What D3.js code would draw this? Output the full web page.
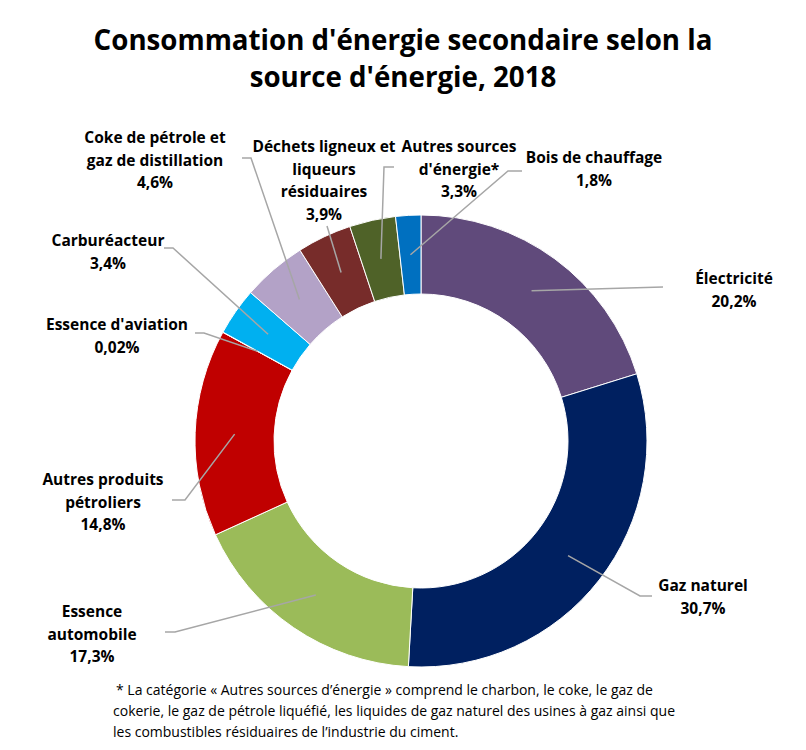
<!DOCTYPE html>
<html lang="fr">
<head>
<meta charset="UTF-8">
<title>Consommation d'énergie secondaire</title>
<style>
  body { margin: 0; background: #fff; }
  svg text { font-family: "Open Sans", Lato, sans-serif; fill: #000; }
</style>
<script src="https://cdn.jsdelivr.net/npm/d3@7"></script>
</head>
<body>
<script>
// données
var categories = ["Électricité", "Gaz naturel", "Essence automobile", "Autres produits pétroliers",
  "Essence d'aviation", "Carburéacteur", "Coke de pétrole et gaz de distillation",
  "Déchets ligneux et liqueurs résiduaires", "Autres sources d'énergie*", "Bois de chauffage"];
var values = [20.2, 30.7, 17.3, 14.8, 0.02, 3.4, 4.6, 3.9, 3.3, 1.8];
var valueLabels = ["20,2%", "30,7%", "17,3%", "14,8%", "0,02%", "3,4%", "4,6%", "3,9%", "3,3%", "1,8%"];
var labelLines = [["Électricité"], ["Gaz naturel"], ["Essence", "automobile"], ["Autres produits", "pétroliers"],
  ["Essence d'aviation"], ["Carburéacteur"], ["Coke de pétrole et", "gaz de distillation"],
  ["Déchets ligneux et", "liqueurs", "résiduaires"], ["Autres sources", "d'énergie*"], ["Bois de chauffage"]];
var colors = ["#604A7B", "#002060", "#9BBB59", "#C00000", "#E46C0A", "#00B0F0", "#B3A2C7", "#772C2A", "#4F6228", "#0070C0"];

var titleLines = ["Consommation d'énergie secondaire selon la", "source d'énergie, 2018"];
var noteLines = ["* La catégorie « Autres sources d’énergie » comprend le charbon, le coke, le gaz de",
  "cokerie, le gaz de pétrole liquéfié, les liquides de gaz naturel des usines à gaz ainsi que",
  "les combustibles résiduaires de l’industrie du ciment."];

// mise en page des étiquettes : centre x, première ligne y, départ du trait [x, y], coude
var labelLayout = [
  {x: 734, y: 284, from: [663, 287]},
  {x: 703, y: 591, from: [652, 596], elbow: [640, 596]},
  {x: 92,  y: 617, from: [165, 632], elbow: [175, 632]},
  {x: 103, y: 485, from: [172, 500], elbow: [185, 500]},
  {x: 117, y: 330, from: [195, 333], elbow: [204, 333]},
  {x: 108, y: 246, from: [164, 248], elbow: [173, 248]},
  {x: 155, y: 143, from: [242, 158], elbow: [251, 158]},
  {x: 324, y: 152, from: [327, 226]},
  {x: 459, y: 152, from: [394, 167], elbow: [384, 167]},
  {x: 594, y: 163, from: [522, 171], elbow: [508, 171]}
];

var width = 806, height = 750;
var cx = 421, cy = 441, outerR = 226, innerR = 147;
var lineH = 22.7;

var svg = d3.select("body").append("svg")
  .attr("width", width)
  .attr("height", height);

// titre
svg.append("text")
  .attr("text-anchor", "middle")
  .attr("font-size", "27.7px")
  .attr("font-weight", "bold")
  .selectAll("tspan")
  .data(titleLines)
  .enter().append("tspan")
  .attr("x", 403)
  .attr("y", function(d, i) { return 50 + i * 37; })
  .text(function(d) { return d; });

// anneau
var pie = d3.pie().sort(null).value(function(d) { return d; });
var arcs = pie(values);
var arc = d3.arc().innerRadius(innerR).outerRadius(outerR);

var g = svg.append("g").attr("transform", "translate(" + cx + "," + cy + ")");

g.selectAll("path")
  .data(arcs)
  .enter().append("path")
  .attr("d", arc)
  .attr("fill", function(d, i) { return colors[i]; })
  .attr("stroke", "#fff")
  .attr("stroke-width", 1);

// traits de rappel
svg.selectAll("polyline.leader")
  .data(arcs)
  .enter().append("polyline")
  .attr("class", "leader")
  .attr("fill", "none")
  .attr("stroke", "#A6A6A6")
  .attr("stroke-width", 1.5)
  .attr("points", function(d, i) {
    var c = arc.centroid(d);
    var L = labelLayout[i];
    var pts = [L.from];
    if (L.elbow) pts.push(L.elbow);
    pts.push([cx + c[0], cy + c[1]]);
    return pts.map(function(p) { return p.join(","); }).join(" ");
  });

// étiquettes
var labels = svg.selectAll("text.label")
  .data(arcs)
  .enter().append("text")
  .attr("class", "label")
  .attr("text-anchor", "middle")
  .attr("font-size", "15.5px")
  .attr("font-weight", "bold");

labels.each(function(d, i) {
  var L = labelLayout[i];
  var lines = labelLines[i].concat([valueLabels[i]]);
  d3.select(this).selectAll("tspan")
    .data(lines)
    .enter().append("tspan")
    .attr("x", L.x)
    .attr("y", function(t, j) { return L.y + j * lineH; })
    .text(function(t) { return t; });
});

// note
svg.append("text")
  .attr("font-size", "14px")
  .selectAll("tspan")
  .data(noteLines)
  .enter().append("tspan")
  .attr("x", function(d, i) { return i === 0 ? 116 : 113; })
  .attr("y", function(d, i) { return 695 + i * 21; })
  .text(function(d) { return d; });
</script>
</body>
</html>
